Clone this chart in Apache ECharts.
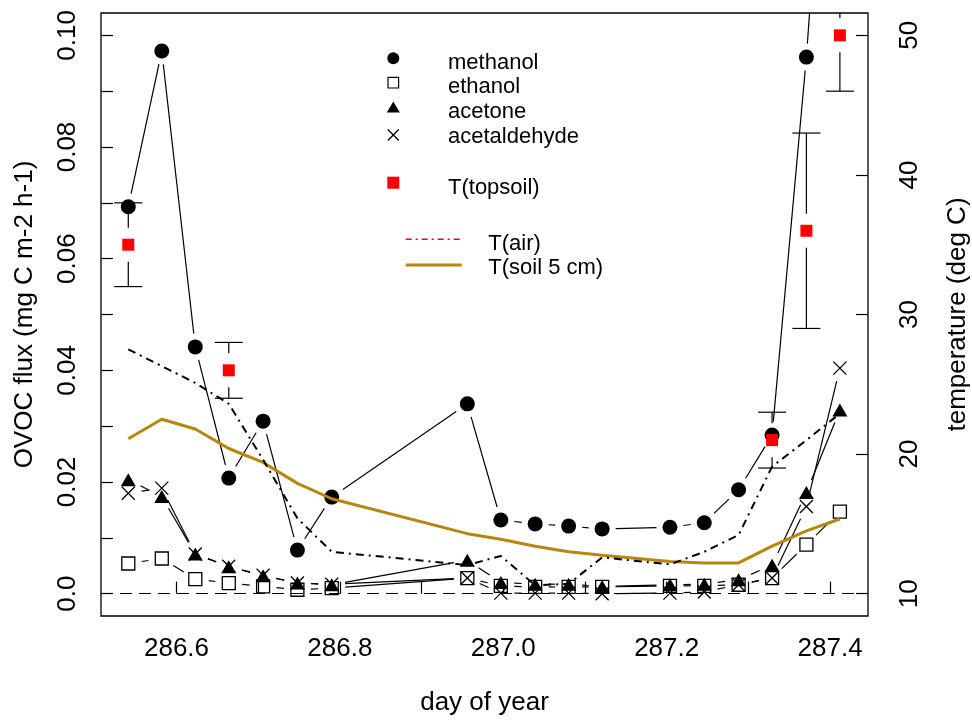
<!DOCTYPE html>
<html><head><meta charset="utf-8">
<script src="https://cdn.jsdelivr.net/npm/echarts@6/dist/echarts.min.js"></script>
<style>html,body{margin:0;padding:0;background:#fff}#c{width:972px;height:720px}</style>
</head><body><div id="c"></div>
<script>
// ---- data (day of year) ----
const days = [286.541, 286.582, 286.623, 286.664, 286.706, 286.748, 286.790, 286.956, 286.997, 287.039, 287.080, 287.121, 287.204, 287.246, 287.288, 287.329, 287.371, 287.412];
const methanol = [0.0693, 0.0972, 0.0442, 0.0207, 0.0309, 0.0078, 0.0173, 0.0340, 0.0132, 0.0125, 0.0121, 0.0116, 0.0119, 0.0127, 0.0186, 0.0284, 0.0961, 0.180];
const ethanol = [0.0054, 0.0063, 0.0026, 0.0019, 0.0013, 0.0007, 0.0010, 0.0028, 0.0014, 0.0012, 0.0012, 0.0012, 0.0014, 0.0014, 0.0016, 0.0028, 0.0088, 0.0147];
const acetone = [0.0204, 0.0174, 0.0071, 0.0048, 0.0032, 0.0019, 0.0016, 0.0060, 0.0020, 0.0017, 0.0017, 0.0013, 0.0016, 0.0017, 0.0025, 0.0051, 0.0181, 0.0329];
const acetaldehyde = [0.0180, 0.0189, 0.0071, 0.0049, 0.0033, 0.0019, 0.0017, 0.0028, 0.0001, 0.0001, 0.0001, 0.0000, 0.0001, 0.0003, 0.0016, 0.0028, 0.0156, 0.0404];
const tAir = [27.5, 26.3, 25.1, 23.6, 19.6, 15.4, 13.0, 12.05, 12.7, 10.6, 10.7, 12.6, 12.1, 13.0, 14.2, 19.1, 21.0, 22.9];
const tSoil5 = [21.1, 22.5, 21.8, 20.4, 19.4, 17.9, 16.8, 14.3, 13.9, 13.4, 13.0, 12.75, 12.3, 12.2, 12.2, 13.4, 14.5, 15.35];
const topsoilDays = [286.541, 286.664, 287.329, 287.371, 287.412];
const topsoil = [35, 26, 21, 36, 50];
const topsoilErr = [3, 2, 2, 7, 4];
// ---- ticks ----
const xTicks = [286.6, 286.7, 286.8, 286.9, 287.0, 287.1, 287.2, 287.3, 287.4];
const xLabels = [286.6, 286.8, 287.0, 287.2, 287.4];
const fluxTicks = [0, 0.01, 0.02, 0.03, 0.04, 0.05, 0.06, 0.07, 0.08, 0.09, 0.10];
const fluxLabels = [0, 0.02, 0.04, 0.06, 0.08, 0.10];
const tempTicks = [10, 20, 30, 40, 50];

const FONT = 'Liberation Sans';
const GAP = 13.5;

function pairs(xs, ys) { return xs.map((x, i) => [x, ys[i]]); }
function segs(xs, ys) {
  const out = [];
  for (let i = 0; i < xs.length - 1; i++) out.push([xs[i], ys[i], xs[i + 1], ys[i + 1]]);
  return out;
}
function segSeries(xs, ys) {
  return {
    type: 'custom', xAxisIndex: 0, yAxisIndex: 0, clip: true, silent: true,
    data: segs(xs, ys), encode: { x: [0, 2], y: [1, 3] },
    renderItem: function (params, api) {
      const a = api.coord([api.value(0), api.value(1)]);
      const b = api.coord([api.value(2), api.value(3)]);
      const dx = b[0] - a[0], dy = b[1] - a[1], d = Math.hypot(dx, dy);
      if (d <= 2 * GAP) return null;
      const ux = dx / d, uy = dy / d;
      return { type: 'line', shape: { x1: a[0] + ux * GAP, y1: a[1] + uy * GAP, x2: b[0] - ux * GAP, y2: b[1] - uy * GAP },
        style: { stroke: '#000', lineWidth: 1.2 } };
    }
  };
}
const XPATH = 'path://M0,0L10,10M10,0L0,10';

const series = [
  { type: 'line', data: pairs(days, methanol), showSymbol: false, lineStyle: { opacity: 0 }, silent: true,
    markLine: { silent: true, symbol: 'none', label: { show: false },
      lineStyle: { color: '#000', width: 1.2, type: [12, 7] }, data: [{ yAxis: 0 }] } },
  segSeries(days, methanol),
  segSeries(days, ethanol),
  segSeries(days, acetone),
  segSeries(days, acetaldehyde),
  { type: 'scatter', data: pairs(days, methanol), symbol: 'circle', symbolSize: 15, itemStyle: { color: '#000', opacity: 1 }, silent: true, clip: true },
  { type: 'scatter', data: pairs(days, ethanol), symbol: 'rect', symbolSize: 13,
    itemStyle: { color: 'rgba(0,0,0,0)', borderColor: '#000', borderWidth: 1.3, opacity: 1 }, silent: true, clip: true },
  { type: 'scatter', data: pairs(days, acetone), symbol: 'triangle', symbolSize: [15, 13], itemStyle: { color: '#000', opacity: 1 }, silent: true, clip: true },
  { type: 'scatter', data: pairs(days, acetaldehyde), symbol: XPATH, symbolSize: 13,
    itemStyle: { color: 'rgba(0,0,0,0)', borderColor: '#000', borderWidth: 1.3, opacity: 1 }, silent: true, clip: true },
  { type: 'line', yAxisIndex: 1, data: pairs(days, tSoil5), showSymbol: false, silent: true,
    lineStyle: { color: '#B8860B', width: 3 } },
  { type: 'line', yAxisIndex: 1, data: pairs(days, tAir), showSymbol: false, silent: true,
    lineStyle: { color: '#000', width: 2, type: [8, 5, 2, 5] } },
  { type: 'custom', yAxisIndex: 1, clip: true, silent: true,
    data: topsoilDays.map((d, i) => [d, topsoil[i], topsoilErr[i]]), encode: { x: 0, y: 1 },
    renderItem: function (params, api) {
      const x = api.value(0), t = api.value(1), e = api.value(2);
      const c = api.coord([x, t]), hi = api.coord([x, t + e]), lo = api.coord([x, t - e]);
      const w = 14, g = 17, st = { stroke: '#000', lineWidth: 1.2 };
      const ch = [
        { type: 'line', shape: { x1: c[0] - w, y1: hi[1], x2: c[0] + w, y2: hi[1] }, style: st },
        { type: 'line', shape: { x1: c[0] - w, y1: lo[1], x2: c[0] + w, y2: lo[1] }, style: st }
      ];
      if (c[1] - g > hi[1]) ch.push({ type: 'line', shape: { x1: c[0], y1: hi[1], x2: c[0], y2: c[1] - g }, style: st });
      if (c[1] + g < lo[1]) ch.push({ type: 'line', shape: { x1: c[0], y1: c[1] + g, x2: c[0], y2: lo[1] }, style: st });
      return { type: 'group', children: ch };
    } },
  { type: 'scatter', yAxisIndex: 1, data: pairs(topsoilDays, topsoil), symbol: 'rect', symbolSize: 12,
    itemStyle: { color: '#FF0000', opacity: 1 }, silent: true, clip: true }
];

const txt = { fontFamily: FONT, fontSize: 26, color: '#000' };
const lg = 22;
function ltext(x, y, s) {
  return { type: 'text', x: x, y: y, style: { text: s, font: lg + 'px "' + FONT + '"', fill: '#000', verticalAlign: 'middle', align: 'left' }, z: 100 };
}
const LX = 393.3;
const graphic = [
  { type: 'circle', shape: { cx: LX, cy: 58.3, r: 6 }, style: { fill: '#000' }, z: 100 },
  ltext(448, 62.5, 'methanol'),
  { type: 'rect', shape: { x: LX - 5.3, y: 82.7 - 5.3, width: 10.6, height: 10.6 }, style: { fill: 'none', stroke: '#000', lineWidth: 1.2 }, z: 100 },
  ltext(448, 86.5, 'ethanol'),
  { type: 'polygon', shape: { points: [[LX - 6.5, 112.5], [LX + 6.5, 112.5], [LX, 101.5]] }, style: { fill: '#000' }, z: 100 },
  ltext(448, 111.5, 'acetone'),
  { type: 'polyline', shape: { points: [[LX - 5.5, 129.5], [LX + 5.5, 140.5]] }, style: { stroke: '#000', lineWidth: 1.2 }, z: 100 },
  { type: 'polyline', shape: { points: [[LX + 5.5, 129.5], [LX - 5.5, 140.5]] }, style: { stroke: '#000', lineWidth: 1.2 }, z: 100 },
  ltext(448, 136.5, 'acetaldehyde'),
  { type: 'rect', shape: { x: LX - 6, y: 182.7 - 6, width: 12, height: 12 }, style: { fill: '#FF0000' }, z: 100 },
  ltext(448, 187.5, 'T(topsoil)'),
  { type: 'polyline', shape: { points: [[405.7, 239.3], [461.7, 239.3]] }, style: { stroke: '#FF0000', lineWidth: 1.6, lineDash: [6, 4, 2, 4] }, z: 100 },
  ltext(488.3, 244, 'T(air)'),
  { type: 'polyline', shape: { points: [[405.7, 265], [461.7, 265]] }, style: { stroke: '#B8860B', lineWidth: 3 }, z: 100 },
  ltext(488.3, 267.5, 'T(soil 5 cm)')
];

const option = {
  animation: false,
  backgroundColor: '#fff',
  grid: { left: 101, right: 104, top: 13, bottom: 104, show: true, borderColor: '#000', borderWidth: 1.3,
    containLabel: false, outerBoundsMode: 'none' },
  xAxis: {
    type: 'value', min: 286.5076, max: 287.4464,
    axisLine: { show: false }, splitLine: { show: false },
    axisTick: { show: true, inside: true, length: 12, customValues: xTicks, lineStyle: { color: '#000', width: 1.2 } },
    axisLabel: { customValues: xLabels, formatter: v => Number(v).toFixed(1), margin: 20, ...txt },
    name: 'day of year', nameLocation: 'middle', nameGap: 74, nameTextStyle: txt, nameMoveOverlap: false
  },
  yAxis: [
    { type: 'value', min: -0.004, max: 0.104, position: 'left',
      axisLine: { show: false }, splitLine: { show: false },
      axisTick: { show: true, inside: true, length: 12, customValues: fluxTicks, lineStyle: { color: '#000', width: 1.2 } },
      axisLabel: { customValues: fluxLabels, rotate: 90, margin: 20, formatter: v => (Math.abs(v) < 1e-9 ? '0.0' : Number(v).toFixed(2)), ...txt },
      name: 'OVOC flux (mg C m-2 h-1)', nameLocation: 'middle', nameGap: 63, nameRotate: 90, nameTextStyle: txt, nameMoveOverlap: false },
    { type: 'value', min: 8.4, max: 51.6, position: 'right',
      axisLine: { show: false }, splitLine: { show: false },
      axisTick: { show: true, inside: true, length: 12, customValues: tempTicks, lineStyle: { color: '#000', width: 1.2 } },
      axisLabel: { customValues: tempTicks, rotate: 90, margin: 29, ...txt },
      name: 'temperature (deg C)', nameLocation: 'middle', nameGap: 77, nameRotate: 90, nameTextStyle: txt, nameMoveOverlap: false }
  ],
  series: series,
  graphic: graphic
};
const chart = echarts.init(document.getElementById('c'), null, { renderer: 'canvas' });
chart.setOption(option);
</script></body></html>
